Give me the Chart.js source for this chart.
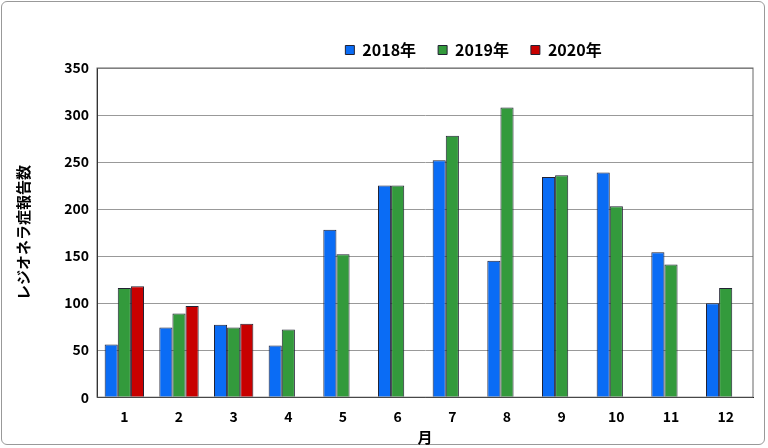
<!DOCTYPE html>
<html><head><meta charset="utf-8">
<script src="https://cdn.jsdelivr.net/npm/chart.js"></script>
<style>
html,body{margin:0;padding:0;background:#fff;}
#wrap{position:absolute;left:1px;top:1px;width:764px;height:444px;border:1px solid #999;border-radius:6px;box-sizing:border-box;}
canvas{position:absolute;left:0;top:0;}
</style></head><body>
<div id="wrap"></div>
<canvas id="c" width="768" height="448"></canvas>
<script>
const months=['1','2','3','4','5','6','7','8','9','10','11','12'];
const s2018=[56,74,77,55,178,225,252,145,234,239,154,100];
const s2019=[116,89,74,72,152,225,278,308,236,203,141,116];
const s2020=[118,97,78,null,null,null,null,null,null,null,null,null];
const yTicks=[0,50,100,150,200,250,300,350];
const F='"Noto Sans CJK JP", sans-serif';
new Chart(document.getElementById('c'),{
type:'bar',
data:{labels:months,datasets:[
{label:'2018年',data:s2018,backgroundColor:'#0a6cf5',borderColor:'#223',borderWidth:1},
{label:'2019年',data:s2019,backgroundColor:'#339a3c',borderColor:'#223',borderWidth:1},
{label:'2020年',data:s2020,backgroundColor:'#c80000',borderColor:'#223',borderWidth:1}]},
options:{responsive:false,animation:false,
layout:{padding:{top:20,right:15,bottom:2,left:10}},
datasets:{bar:{categoryPercentage:0.72,barPercentage:1}},
plugins:{legend:{position:'top',labels:{font:{family:F,size:16,weight:'bold'},color:'#000',boxWidth:9,boxHeight:9,padding:22}},tooltip:{enabled:false}},
scales:{
x:{grid:{display:false},border:{color:'#000'},ticks:{color:'#000',font:{family:F,size:14,weight:'bold'}},
 title:{display:true,text:'月',color:'#000',font:{family:F,size:15,weight:'bold'},padding:0}},
y:{min:0,max:350,afterBuildTicks:a=>{a.ticks=yTicks.map(v=>({value:v}));},
 grid:{color:'#999',drawTicks:false},border:{color:'#000'},
 ticks:{color:'#000',padding:8,font:{family:F,size:14,weight:'bold'}},
 title:{display:true,text:'レジオネラ症報告数',color:'#000',font:{family:F,size:15,weight:'bold'}},
 afterFit:s=>{s.width=87;}}
}},
plugins:[{id:'shiftLegend',afterLayout(c){c.legend.left+=92;c.legend.right+=92;}},
{id:'frame',afterDraw(c){const a=c.chartArea,x=c.ctx;x.save();x.strokeStyle='#666';x.lineWidth=1;x.strokeRect(a.left,a.top,a.right-a.left,a.bottom-a.top);x.restore();}}]
});
</script></body></html>
